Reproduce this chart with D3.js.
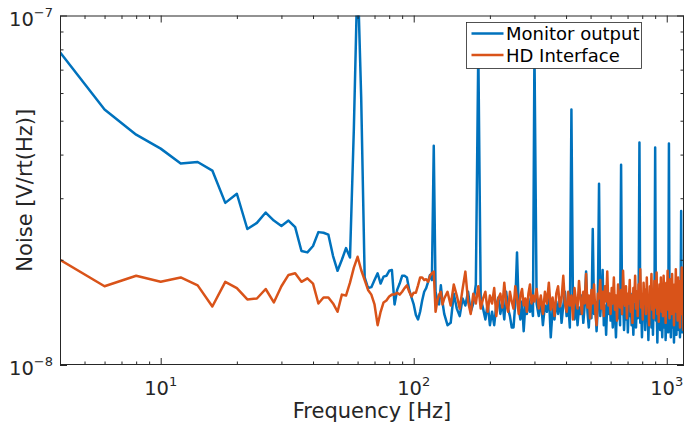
<!DOCTYPE html>
<html>
<head>
<meta charset="utf-8">
<script src="https://cdn.jsdelivr.net/npm/d3@7"></script>
<style>
  body { margin: 0; background: #fff; }
  svg { display: block; font-family: 'DejaVu Sans', sans-serif; }
  .tick line { stroke: #262626; }
  .tick-label { font-size: 19.5px; fill: #262626; }
  .tick-label .exp { font-size: 13px; }
  .axis-label { font-size: 21px; fill: #262626; }
  .legend-text { font-size: 18px; fill: #000; }
  .line-path { fill: none; stroke-width: 2.5; stroke-linejoin: round; }
</style>
</head>
<body>
<svg width="686" height="428"></svg>
<script>
// frequency bins [Hz]
const freq = [
  4, 6, 8, 10, 12, 14, 16, 18,
  20, 22, 24, 26, 28, 30, 32, 34,
  36, 38, 40, 42, 44, 46, 48, 50,
  52, 54, 56, 58, 60, 62, 64, 66,
  68, 70, 72, 74, 76, 78, 80, 82,
  84, 86, 88, 90, 92, 94, 96, 98,
  100, 102, 104, 106, 108, 110, 112, 114,
  116, 118, 120, 122, 124, 126, 128, 130,
  132, 136, 140, 144, 148, 152, 156, 160, 164, 168,
  172, 176, 180, 184, 188, 192, 196, 200, 204, 208,
  212, 216, 220, 224, 228, 232, 236, 240, 244, 248,
  252, 256, 260, 264, 268, 272, 276, 280, 284, 288,
  292, 296,
  300, 306, 312, 318, 324, 330, 336, 342, 348, 354,
  360, 366, 372, 378, 384, 390, 396, 402, 408, 414,
  420, 426, 432, 438, 444, 450, 456, 462, 468, 474,
  480, 486, 492, 498, 504, 510, 516, 522, 528, 534,
  540, 546, 552, 558, 564, 570, 576, 582, 588, 594,
  600, 606, 612, 618, 624, 630, 636, 642, 648, 654,
  660, 666, 672, 678, 684, 690, 696, 702, 708, 714,
  720, 726, 732, 738, 744, 750, 756, 762, 768, 774,
  780, 786, 792, 798, 804, 810, 816, 822, 828, 834,
  840, 846, 852, 858, 864, 870, 876, 882, 888, 894,
  900, 906, 912, 918, 924, 930, 936, 942, 948, 954,
  960, 966, 972, 978, 984, 990, 996, 1002, 1008, 1014,
  1020, 1026, 1032, 1038, 1044, 1050, 1056, 1062, 1068, 1074,
  1080, 1086, 1092, 1098, 1104, 1110, 1116, 1122, 1128, 1134,
  1140, 1146, 1152, 1158, 1164, 1170
];

// noise, in units of 1e-8 V/rt(Hz)
const monitorOutput = [
  7.85, 5.38, 4.56, 4.16, 3.77, 3.81, 3.60, 2.91,
  3.09, 2.45, 2.55, 2.73, 2.59, 2.50, 2.59, 2.48,
  2.12, 2.10, 2.19, 2.40, 2.39, 2.36, 2.05, 1.86,
  2.00, 2.16, 2.03, 4.75, 13.5, 5.82, 1.78, 1.66,
  1.67, 1.75, 1.83, 1.71, 1.79, 1.80, 1.86, 1.87,
  1.49, 1.64, 1.71, 1.80, 1.80, 1.78, 1.64, 1.56,
  1.49, 1.39, 1.35, 1.42, 1.53, 1.62, 1.66, 1.73,
  1.81, 1.75, 4.24, 1.62, 1.53, 1.49, 1.69, 1.51,
  1.40, 1.30, 1.32, 1.60, 1.45, 1.38, 1.55, 1.48, 1.62, 1.42,
  1.50, 1.70, 8.00, 1.55, 1.45, 1.35, 1.50, 1.30, 1.42, 1.30,
  1.48, 1.56, 1.40, 1.52, 1.35, 1.62, 1.45, 1.38, 1.28, 1.28,
  1.50, 2.10, 1.45, 1.35, 1.52, 1.25, 1.48, 1.40, 1.55, 1.42,
  1.50, 1.38,
  8.00, 1.50, 1.38, 1.55, 1.30, 1.48, 1.42, 1.60, 1.20, 1.45,
  1.35, 1.52, 1.40, 1.56, 1.32, 1.48, 1.62, 1.38, 1.50, 1.28,
  5.38, 1.45, 1.35, 1.55, 1.30, 1.46, 1.40, 1.58, 1.32, 1.48,
  1.85, 1.42, 1.28, 1.50, 1.36, 2.45, 1.40, 1.52, 1.25, 1.46,
  3.30, 1.38, 1.55, 1.87, 1.30, 1.48, 1.22, 1.52, 1.40, 1.60,
  1.34, 1.48, 1.28, 1.55, 1.42, 1.20, 1.50, 1.36, 1.58, 1.30,
  3.74, 1.40, 1.52, 1.26, 1.46, 1.35, 1.56, 1.24, 1.48, 1.38,
  1.60, 1.30, 1.45, 1.22, 1.50, 1.40, 1.28, 1.54, 1.36, 1.48,
  4.33, 1.32, 1.50, 1.20, 1.44, 1.38, 1.58, 1.26, 1.46, 1.35,
  1.52, 1.18, 1.42, 1.36, 1.55, 1.28, 1.48, 1.22, 1.50, 1.38,
  4.19, 1.34, 1.50, 1.16, 1.44, 1.30, 1.56, 1.26, 1.46, 1.36,
  1.20, 1.50, 1.40, 1.28, 1.54, 1.18, 1.45, 1.35, 1.52, 1.24,
  4.30, 1.32, 1.48, 1.20, 1.42, 1.55, 1.28, 1.46, 1.16, 1.40,
  1.50, 1.30, 1.22, 1.48, 1.36, 1.55, 1.26, 1.44, 1.20, 1.50,
  2.76, 1.38, 1.24, 1.48, 1.30, 1.42
];

const hdInterface = [
  2.00, 1.68, 1.80, 1.73, 1.78, 1.69, 1.47, 1.73,
  1.66, 1.54, 1.55, 1.65, 1.51, 1.68, 1.81, 1.83,
  1.73, 1.77, 1.71, 1.50, 1.56, 1.56, 1.50, 1.42,
  1.59, 1.58, 1.72, 1.90, 2.04, 1.87, 1.75, 1.64,
  1.59, 1.49, 1.30, 1.42, 1.51, 1.53, 1.57, 1.59,
  1.59, 1.61, 1.59, 1.62, 1.66, 1.69, 1.62, 1.57,
  1.61, 1.61, 1.69, 1.78, 1.78, 1.75, 1.76, 1.73,
  1.80, 1.83, 1.85, 1.42, 1.53, 1.59, 1.62, 1.49,
  1.55, 1.62, 1.48, 1.70, 1.58, 1.45, 1.65, 1.85, 1.52, 1.40,
  1.60, 1.50, 1.68, 1.45, 1.55, 1.62, 1.42, 1.58, 1.50, 1.66,
  1.38, 1.55, 1.60, 1.46, 1.72, 1.50, 1.42, 1.62, 1.52, 1.45,
  1.68, 1.55, 1.40, 1.58, 1.65, 1.48, 1.55, 1.42, 1.60, 1.70,
  1.50, 1.58,
  1.52, 1.65, 1.45, 1.58, 1.40, 1.62, 1.50, 1.72, 1.44, 1.56,
  1.38, 1.60, 1.68, 1.47, 1.55, 1.80, 1.50, 1.42, 1.62, 1.48,
  1.58, 1.35, 1.66, 1.52, 1.45, 1.74, 1.55, 1.40, 1.62, 1.50,
  1.82, 1.46, 1.58, 1.36, 1.64, 1.50, 1.70, 1.42, 1.30, 1.60,
  1.55, 1.75, 1.45, 1.62, 1.38, 1.68, 1.52, 1.85, 1.48, 1.60,
  1.40, 1.66, 1.50, 1.78, 1.44, 1.58, 1.34, 1.70, 1.52, 1.46,
  1.64, 1.40, 1.86, 1.55, 1.48, 1.68, 1.36, 1.60, 1.50, 1.75,
  1.42, 1.58, 1.32, 1.66, 1.52, 1.80, 1.45, 1.62, 1.38, 1.70,
  1.55, 1.88, 1.46, 1.60, 1.35, 1.72, 1.50, 1.64, 1.40, 1.78,
  1.48, 1.58, 1.30, 1.68, 1.52, 1.82, 1.44, 1.62, 1.36, 1.74,
  1.55, 1.46, 1.84, 1.40, 1.60, 1.33, 1.70, 1.50, 1.78, 1.42,
  1.64, 1.38, 1.80, 1.48, 1.58, 1.32, 1.72, 1.52, 1.86, 1.44,
  1.62, 1.36, 1.76, 1.50, 1.40, 1.82, 1.46, 1.64, 1.30, 1.70,
  1.52, 1.88, 1.42, 1.60, 1.34, 1.78, 1.48, 1.66, 1.28, 1.74,
  1.55, 1.90, 1.40, 1.62, 1.26, 1.72
];

const seriesNames = ['Monitor output', 'HD Interface'];
const seriesColors = ['#0072BD', '#D95319'];

const xMajor = [10, 100, 1000];
const xMinor = [5, 6, 7, 8, 9, 20, 30, 40, 50, 60, 70, 80, 90, 200, 300, 400, 500, 600, 700, 800, 900];
const yMajor = [1e-8, 1e-7];
const yMinor = [2e-8, 3e-8, 4e-8, 5e-8, 6e-8, 7e-8, 8e-8, 9e-8];

const svg = d3.select('svg');
const width = +svg.attr('width');
const height = +svg.attr('height');

const render = () => {
    const margin = { top: 15.5, right: 2, bottom: 63, left: 60 };
    const innerWidth = width - margin.left - margin.right;
    const innerHeight = height - margin.top - margin.bottom;

    const xScale = d3.scaleLog()
        .domain([4, 1170])
        .range([0, innerWidth]);

    const yScale = d3.scaleLog()
        .domain([1e-8, 1e-7])
        .range([innerHeight, 0]);

    const g = svg.append('g')
        .attr('transform', `translate(${margin.left}, ${margin.top})`);

    g.append('clipPath').attr('id', 'plot-clip')
      .append('rect')
        .attr('width', innerWidth)
        .attr('height', innerHeight);

    const lineGenerator = d3.line()
        .x(d => xScale(d.f))
        .y(d => yScale(d.v * 1e-8));

    [monitorOutput, hdInterface].forEach((values, k) => {
        const data = freq.map((f, i) => ({ f, v: values[i] }));
        g.append('path')
            .attr('class', 'line-path')
            .attr('clip-path', 'url(#plot-clip)')
            .attr('stroke', seriesColors[k])
            .attr('d', lineGenerator(data));
    });

    // ticks point inward on all four sides
    const addAxis = (axis, transform) => {
        const ag = g.append('g').attr('transform', transform).call(axis);
        ag.select('.domain').remove();
        ag.selectAll('text').remove();
    };
    addAxis(d3.axisBottom(xScale).tickValues(xMajor).tickSize(-7), `translate(0, ${innerHeight})`);
    addAxis(d3.axisBottom(xScale).tickValues(xMinor).tickSize(-3.5), `translate(0, ${innerHeight})`);
    addAxis(d3.axisTop(xScale).tickValues(xMajor).tickSize(-7), 'translate(0, 0)');
    addAxis(d3.axisTop(xScale).tickValues(xMinor).tickSize(-3.5), 'translate(0, 0)');
    addAxis(d3.axisLeft(yScale).tickValues(yMajor).tickSize(-7), 'translate(0, 0)');
    addAxis(d3.axisLeft(yScale).tickValues(yMinor).tickSize(-3.5), 'translate(0, 0)');
    addAxis(d3.axisRight(yScale).tickValues(yMajor).tickSize(-7), `translate(${innerWidth}, 0)`);
    addAxis(d3.axisRight(yScale).tickValues(yMinor).tickSize(-3.5), `translate(${innerWidth}, 0)`);

    g.append('rect')
        .attr('x', 0.5)
        .attr('y', 0.5)
        .attr('width', innerWidth - 1)
        .attr('height', innerHeight - 1)
        .attr('fill', 'none')
        .attr('stroke', '#262626')
        .attr('stroke-width', 1);

    // tick labels as 10^n
    xMajor.forEach(v => {
        const t = g.append('text')
            .attr('class', 'tick-label')
            .attr('text-anchor', 'middle')
            .attr('x', xScale(v))
            .attr('y', innerHeight + 29.5);
        t.append('tspan').text('10');
        t.append('tspan').attr('class', 'exp').attr('dy', -9).text(Math.round(Math.log10(v)));
    });

    yMajor.forEach(v => {
        const t = g.append('text')
            .attr('class', 'tick-label')
            .attr('text-anchor', 'end')
            .attr('x', -7)
            .attr('y', yScale(v) + 10);
        t.append('tspan').text('10');
        t.append('tspan').attr('class', 'exp').attr('dy', -9)
            .text('\u2212' + Math.abs(Math.round(Math.log10(v))));
    });

    g.append('text')
        .attr('class', 'axis-label')
        .attr('text-anchor', 'middle')
        .attr('x', innerWidth / 2)
        .attr('y', innerHeight + 53)
        .text('Frequency [Hz]');

    g.append('text')
        .attr('class', 'axis-label')
        .attr('text-anchor', 'middle')
        .attr('transform', `translate(${-28.5}, ${innerHeight / 2}) rotate(-90)`)
        .text('Noise [V/rt(Hz)]');

    // legend
    const legend = g.append('g')
        .attr('transform', `translate(${innerWidth - 218}, 6.5)`);

    legend.append('rect')
        .attr('x', 0.5)
        .attr('y', 0.5)
        .attr('width', 175)
        .attr('height', 46)
        .attr('fill', '#fff')
        .attr('stroke', '#262626')
        .attr('stroke-width', 0.8);

    seriesNames.forEach((name, k) => {
        const rowY = 11.5 + k * 21.5;
        legend.append('line')
            .attr('x1', 5.5)
            .attr('x2', 37.5)
            .attr('y1', rowY)
            .attr('y2', rowY)
            .attr('stroke', seriesColors[k])
            .attr('stroke-width', 2.5);
        legend.append('text')
            .attr('class', 'legend-text')
            .attr('x', 40)
            .attr('y', rowY + 6.5)
            .text(name);
    });
};

render();
</script>
</body>
</html>
